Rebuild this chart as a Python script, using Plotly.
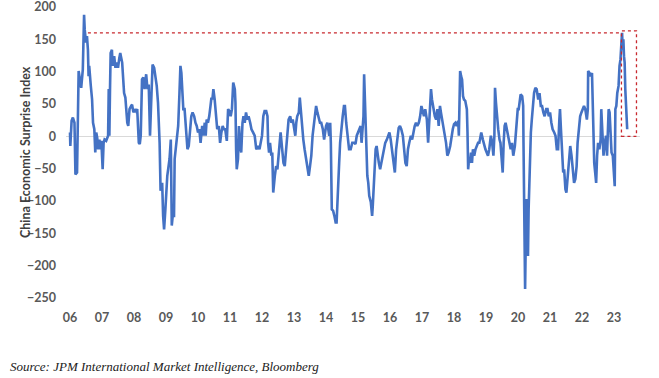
import plotly.graph_objects as go

# Decimal-year dates of the China Economic Surprise Index readings
dates = [
    2006.00, 2006.01, 2006.05, 2006.09, 2006.14, 2006.17, 2006.22, 2006.25, 2006.27, 2006.31, 2006.35, 2006.40, 2006.44, 2006.46, 2006.50, 2006.53, 2006.56, 2006.58, 2006.60, 2006.65, 2006.69, 2006.72, 2006.76, 2006.79, 2006.82, 2006.85, 2006.88, 2006.92, 2006.95, 2006.98,
    2007.02, 2007.05, 2007.08, 2007.13, 2007.16, 2007.19, 2007.21, 2007.23, 2007.25, 2007.27, 2007.31, 2007.33, 2007.38, 2007.42, 2007.46, 2007.50, 2007.54, 2007.57, 2007.63, 2007.66, 2007.69, 2007.73, 2007.76, 2007.79, 2007.82, 2007.86, 2007.91, 2007.94, 2007.98,
    2008.02, 2008.06, 2008.10, 2008.15, 2008.18, 2008.21, 2008.25, 2008.29, 2008.33, 2008.38, 2008.42, 2008.46, 2008.50, 2008.54, 2008.58, 2008.63, 2008.67, 2008.71, 2008.75,
    2008.80, 2008.83, 2008.88, 2008.91, 2008.94, 2008.98, 2009.01, 2009.04, 2009.08, 2009.11, 2009.15, 2009.18, 2009.21, 2009.25, 2009.27, 2009.30, 2009.33, 2009.38, 2009.42, 2009.45, 2009.48, 2009.51, 2009.54, 2009.58, 2009.63, 2009.67, 2009.71, 2009.75, 2009.79, 2009.83, 2009.88, 2009.92, 2009.96,
    2010.00, 2010.04, 2010.08, 2010.13, 2010.17, 2010.21, 2010.24, 2010.27, 2010.31, 2010.35, 2010.39, 2010.42, 2010.45, 2010.48, 2010.52, 2010.56, 2010.60, 2010.65, 2010.69, 2010.73, 2010.77, 2010.81, 2010.85, 2010.90, 2010.94, 2010.98,
    2011.02, 2011.06, 2011.10, 2011.15, 2011.17, 2011.19, 2011.21, 2011.25, 2011.28, 2011.31, 2011.35, 2011.39, 2011.42, 2011.46, 2011.50, 2011.54, 2011.58, 2011.63, 2011.67, 2011.72, 2011.77, 2011.82,
    2011.88, 2011.92, 2011.96, 2012.00, 2012.04, 2012.08, 2012.13, 2012.17, 2012.19, 2012.22, 2012.25, 2012.29, 2012.32, 2012.35, 2012.40, 2012.44, 2012.48, 2012.52, 2012.56, 2012.58, 2012.63, 2012.67, 2012.71, 2012.75, 2012.79, 2012.83, 2012.88, 2012.92, 2012.96,
    2013.00, 2013.04, 2013.07, 2013.10, 2013.15, 2013.18, 2013.21, 2013.25, 2013.29, 2013.33, 2013.36, 2013.40, 2013.43, 2013.46, 2013.50, 2013.54, 2013.58, 2013.63, 2013.66, 2013.69, 2013.73, 2013.77, 2013.81, 2013.85, 2013.90, 2013.94, 2013.97,
    2014.00, 2014.04, 2014.08, 2014.10, 2014.13, 2014.15, 2014.18, 2014.22, 2014.26, 2014.30, 2014.33, 2014.38, 2014.41, 2014.44, 2014.48, 2014.52, 2014.56, 2014.59, 2014.63, 2014.67, 2014.72, 2014.77, 2014.82,
    2014.88, 2014.92, 2014.96, 2015.00, 2015.04, 2015.08, 2015.11, 2015.15, 2015.17, 2015.19, 2015.22, 2015.25, 2015.27, 2015.29, 2015.32, 2015.35, 2015.40, 2015.44, 2015.46, 2015.49, 2015.52, 2015.55, 2015.58, 2015.61, 2015.65, 2015.69, 2015.73, 2015.77, 2015.81, 2015.85, 2015.90, 2015.94, 2015.98,
    2016.02, 2016.06, 2016.10, 2016.15, 2016.19, 2016.23, 2016.27, 2016.31, 2016.35, 2016.40, 2016.44, 2016.48, 2016.52, 2016.56, 2016.60, 2016.65, 2016.69, 2016.73, 2016.77, 2016.81, 2016.85, 2016.90, 2016.94, 2016.98,
    2017.02, 2017.06, 2017.10, 2017.15, 2017.19, 2017.22, 2017.25, 2017.28, 2017.31, 2017.35, 2017.40, 2017.44, 2017.48, 2017.52, 2017.56, 2017.59, 2017.63, 2017.67, 2017.71, 2017.75,
    2017.79, 2017.83, 2017.88, 2017.92, 2017.96, 2018.00, 2018.04, 2018.08, 2018.13, 2018.15, 2018.17, 2018.19, 2018.22, 2018.25, 2018.28, 2018.31, 2018.35, 2018.40, 2018.42, 2018.44, 2018.47, 2018.50, 2018.53, 2018.56, 2018.59, 2018.63, 2018.67, 2018.71, 2018.75, 2018.79, 2018.82, 2018.85, 2018.90, 2018.94, 2018.98,
    2019.02, 2019.06, 2019.10, 2019.15, 2019.19, 2019.23, 2019.26, 2019.28, 2019.31, 2019.34, 2019.38, 2019.42, 2019.45, 2019.48, 2019.52, 2019.55, 2019.58, 2019.61, 2019.65, 2019.69, 2019.73, 2019.77, 2019.81, 2019.85, 2019.90, 2019.92, 2019.96, 2019.99,
    2020.02, 2020.05, 2020.08, 2020.13, 2020.16, 2020.17, 2020.19, 2020.21, 2020.22, 2020.24, 2020.27, 2020.29, 2020.31, 2020.33, 2020.36, 2020.40, 2020.43, 2020.46, 2020.50, 2020.54, 2020.58, 2020.63, 2020.67, 2020.71, 2020.75, 2020.79,
    2020.83, 2020.88, 2020.92, 2020.96, 2021.00, 2021.04, 2021.08, 2021.13, 2021.17, 2021.21, 2021.25, 2021.29, 2021.31, 2021.34, 2021.38, 2021.41, 2021.44, 2021.48, 2021.51, 2021.54, 2021.58, 2021.63, 2021.67, 2021.71, 2021.75, 2021.79, 2021.83, 2021.86, 2021.90, 2021.94, 2021.98, 2022.02, 2022.06, 2022.10, 2022.15, 2022.18,
    2022.19, 2022.23, 2022.27, 2022.31, 2022.33, 2022.35, 2022.38, 2022.41, 2022.44, 2022.47, 2022.50, 2022.54, 2022.58, 2022.60, 2022.64, 2022.67, 2022.71, 2022.75, 2022.78, 2022.81, 2022.83, 2022.86, 2022.90, 2022.92, 2022.96, 2022.99, 2023.02, 2023.04, 2023.07, 2023.10, 2023.14, 2023.17, 2023.20, 2023.23, 2023.25, 2023.27, 2023.29, 2023.31, 2023.33, 2023.35, 2023.38, 2023.41,
]

surprise_index = [
    6, -15, 24, 29, 21, -59, -56, 31, 101, 88, 75, 103, 188, 165, 145, 155, 134, 93, 109, 78, 57, 21, 11, -25, 6, -2, -20, -5, -20, -7,
    -51, -10, -5, -7, -2, 1, 73, 1, 73, 129, 134, 109, 124, 106, 114, 106, 121, 129, 114, 93, 67, 60, 31, 21, 16, 42, 47, 49, 37,
    42, 39, 42, -10, -12, 1, 88, 91, 73, 96, 73, 80, 1, 57, 111, 106, 93, 78, 52,
    -10, -84, -72, -123, -144, -113, -77, -61, -46, -35, -5, -138, -123, -123, -35, -20, -10, 16, 67, 109, 98, 57, 42, 42, 1, -20, -15, 16, 31, 37, 31, 21, 16,
    6, 11, -10, 16, 1, 21, 1, 26, 21, 31, 47, 60, 57, 73, 57, 26, 11, 16, -10, 6, 16, 11, 11, -7, 42, 39,
    31, 42, 83, 73, 52, -20, -51, -35, 16, -10, -25, 21, 31, 21, 37, 26, 31, 21, 11, 6, 1, -20,
    -15, -20, -10, 1, 31, 39, 39, 31, -10, -25, -10, -30, -25, -87, -61, -46, -51, -30, -15, 6, -20, -41, -46, -25, 1, 26, 31, 21, 26,
    11, 1, 21, 31, 37, 60, 42, 16, -5, -20, -30, -41, -46, -61, -46, -30, 1, 21, 42, 47, 37, 26, 21, 21, 11, -5, 6,
    16, 21, 11, 1, 21, -10, -113, -115, -123, -133, -133, -87, -41, -10, 16, 31, 47, 47, 21, 1, -20, -20, -10,
    -10, -12, 1, 6, 11, 16, -10, 11, 31, 96, 42, 26, -20, -61, -72, -92, -102, -123, -108, -72, -41, -20, -15, -30, -41, -51, -41, -35, -20, -10, -5, 1, 6,
    -5, -20, -35, -56, -20, 1, 13, 16, 11, 1, -25, -41, -46, -20, -10, 1, -5, 6, 16, 21, 16, 21, 31, 47,
    37, 31, 42, 26, -10, 26, 52, 73, 57, 42, 31, 26, 42, 16, 47, 37, 26, 16, 1, -10,
    -30, -25, -15, 1, 11, 19, 21, 16, 24, 1, 52, 101, 93, 88, 62, 57, 55, 42, 6, -51, -35, -41, -25, -41, -20, -30, -20, -15, -10, -10, 1, 6, -5, -15, -20,
    -25, -30, -20, 1, -10, -30, 1, 75, 52, 31, 11, -5, -10, -30, -56, -10, 16, 21, 11, 1, -5, -20, -10, -30, -15, 1, 26, 42,
    42, 57, 65, 62, 47, -10, -123, -164, -236, -164, -97, -159, -185, -113, -41, 6, 26, 47, 67, 75, 73, 57, 67, 47, 47, 37,
    31, 42, 42, 31, 37, 21, 11, 6, 1, -20, -20, 26, 42, 11, -46, -56, -51, -82, -87, -66, -51, -15, -30, -51, -72, -66, -46, -10, 11, 31, 37, 42, 47, 42, 26, 42,
    101, 98, 93, 98, 57, 42, -41, -56, -72, -30, -10, -20, -5, 42, 1, -30, -10, 1, -30, 16, 42, 37, 6, -25, -30, -61, -77, 42, 47, 67, 78, 109, 119, 145, 160, 134, 150, 124, 114, 73, 42, 11,
]

n = min(len(dates), len(surprise_index))
dates = dates[:n]
surprise_index = surprise_index[:n]

tick_years = list(range(2006, 2024))
tick_labels = ["06", "07", "08", "09", "10", "11", "12", "13", "14", "15",
               "16", "17", "18", "19", "20", "21", "22", "23"]
y_ticks = [200, 150, 100, 50, 0, -50, -100, -150, -200, -250]

# Highlight annotation: previous-high reference line and recent-spike box
ref_level = 160
ref_start, ref_end = 2006.56, 2023.23
box_x = [2023.23, 2023.70]
box_y = [0, 163]

BLUE = "#4472C4"
RED = "#C8282E"
GREY = "#595959"

W, H = 659, 378
L, R, T, B = 66, 19, 7, 80
PW = W - L - R
PH = H - T - B

fig = go.Figure()
fig.add_trace(go.Scatter(
    x=dates, y=surprise_index, mode="lines",
    line=dict(color=BLUE, width=2.6), showlegend=False, hoverinfo="skip",
))

fig.add_shape(type="line", x0=ref_start, x1=ref_end, y0=ref_level, y1=ref_level,
              xref="x", yref="y", line=dict(color=RED, width=1.3, dash="dot"))
fig.add_shape(type="rect", x0=box_x[0], x1=box_x[1], y0=box_y[0], y1=box_y[1],
              xref="x", yref="y", line=dict(color=RED, width=1.3, dash="dot"),
              fillcolor="rgba(0,0,0,0)")

fig.update_layout(
    width=W, height=H,
    margin=dict(l=L, r=R, t=T, b=B, pad=0),
    paper_bgcolor="white", plot_bgcolor="white",
    font=dict(family="Lato, sans-serif", size=12, color=GREY),
    hovermode=False,
    xaxis=dict(
        range=[2005.875, 2023.81], tickvals=tick_years, ticktext=tick_labels,
        showgrid=False, zeroline=False, showline=False, ticks="",
        ticklabelstandoff=10, automargin=False,
        tickfont=dict(family="Lato, sans-serif", size=12.5, color=GREY, weight="bold"),
    ),
    yaxis=dict(
        range=[-250, 200], tickvals=y_ticks, showgrid=False,
        zeroline=True, zerolinecolor="#D9D9D9", zerolinewidth=1,
        showline=False, ticks="", ticklabelstandoff=9, automargin=False,
        ticklabeloverflow="allow",
        tickfont=dict(family="Lato, sans-serif", size=12.5, color=GREY, weight="bold"),
    ),
    annotations=[
        dict(text="China Economic Surprise Index", textangle=-90,
             xref="paper", yref="paper", x=(25 - L) / PW, y=(T + PH - 152) / PH,
             xanchor="center", yanchor="middle", showarrow=False,
             font=dict(family="Lato, sans-serif", size=12.5, color="#404040", weight="bold")),
        dict(text="<i>Source: JPM International Market Intelligence, Bloomberg</i>",
             xref="paper", yref="paper", x=(8 - L) / PW, y=(T + PH - 366) / PH,
             xanchor="left", yanchor="middle", showarrow=False,
             font=dict(family="Liberation Serif, serif", size=13, color="#222222")),
    ],
)

# Remove the default page margin so the figure sits at the window's top-left corner
fig.write_html("out.html", config={"displayModeBar": False},
               post_script="document.body.style.margin='0';")
